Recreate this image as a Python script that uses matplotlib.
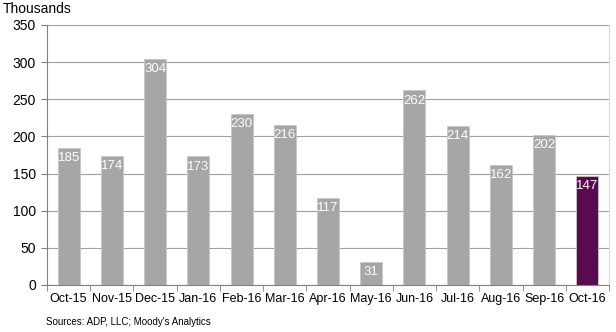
import matplotlib.pyplot as plt

months = ['Oct-15', 'Nov-15', 'Dec-15', 'Jan-16', 'Feb-16', 'Mar-16', 'Apr-16',
          'May-16', 'Jun-16', 'Jul-16', 'Aug-16', 'Sep-16', 'Oct-16']
jobs = [185, 174, 304, 173, 230, 216, 117, 31, 262, 214, 162, 202, 147]

plt.rcParams['font.family'] = ['Liberation Sans', 'DejaVu Sans']

fig = plt.figure(figsize=(6.16, 3.32), dpi=100)
ax = fig.add_axes([0.0763, 0.1416, 0.9123, 0.7831])

colors = ['#a6a6a6'] * (len(jobs) - 1) + ['#5a0a4e']
x = list(range(len(jobs)))
bars = ax.bar(x, jobs, width=0.51, color=colors, edgecolor='#c8c8c8', linewidth=0.6, zorder=3)

for b, v in zip(bars, jobs):
    ax.annotate(str(v), (b.get_x() + b.get_width() / 2, v), xytext=(0, -3),
                textcoords='offset points', ha='center', va='top',
                color='white', fontsize=9.5, zorder=4)

ax.set_xlim(-0.5, len(jobs) - 0.5)
ax.set_ylim(0, 350)
ax.set_yticks(range(0, 351, 50))
ax.yaxis.grid(True, color='#a0a0a0', linewidth=0.8, zorder=0)
ax.set_xticks(x)
ax.set_xticklabels(months, fontsize=9)
ax.set_xticks([i + 0.5 for i in range(-1, len(jobs))], minor=True)
ax.tick_params(axis='x', which='major', length=0, pad=6)
ax.tick_params(axis='x', which='minor', length=4, color='#808080')
ax.tick_params(axis='y', length=4, color='#808080', labelsize=10, pad=4)

ax.spines['top'].set_visible(False)
ax.spines['right'].set_color('#d9d9d9')
ax.spines['left'].set_color('#808080')
ax.spines['bottom'].set_color('#808080')

fig.text(0.005, 0.972, 'Thousands', fontsize=10, ha='left', va='center')
fig.text(0.075, 0.03, "Sources: ADP, LLC; Moody's Analytics", fontsize=7, ha='left', va='center')

fig.savefig('out.png', dpi=100)
